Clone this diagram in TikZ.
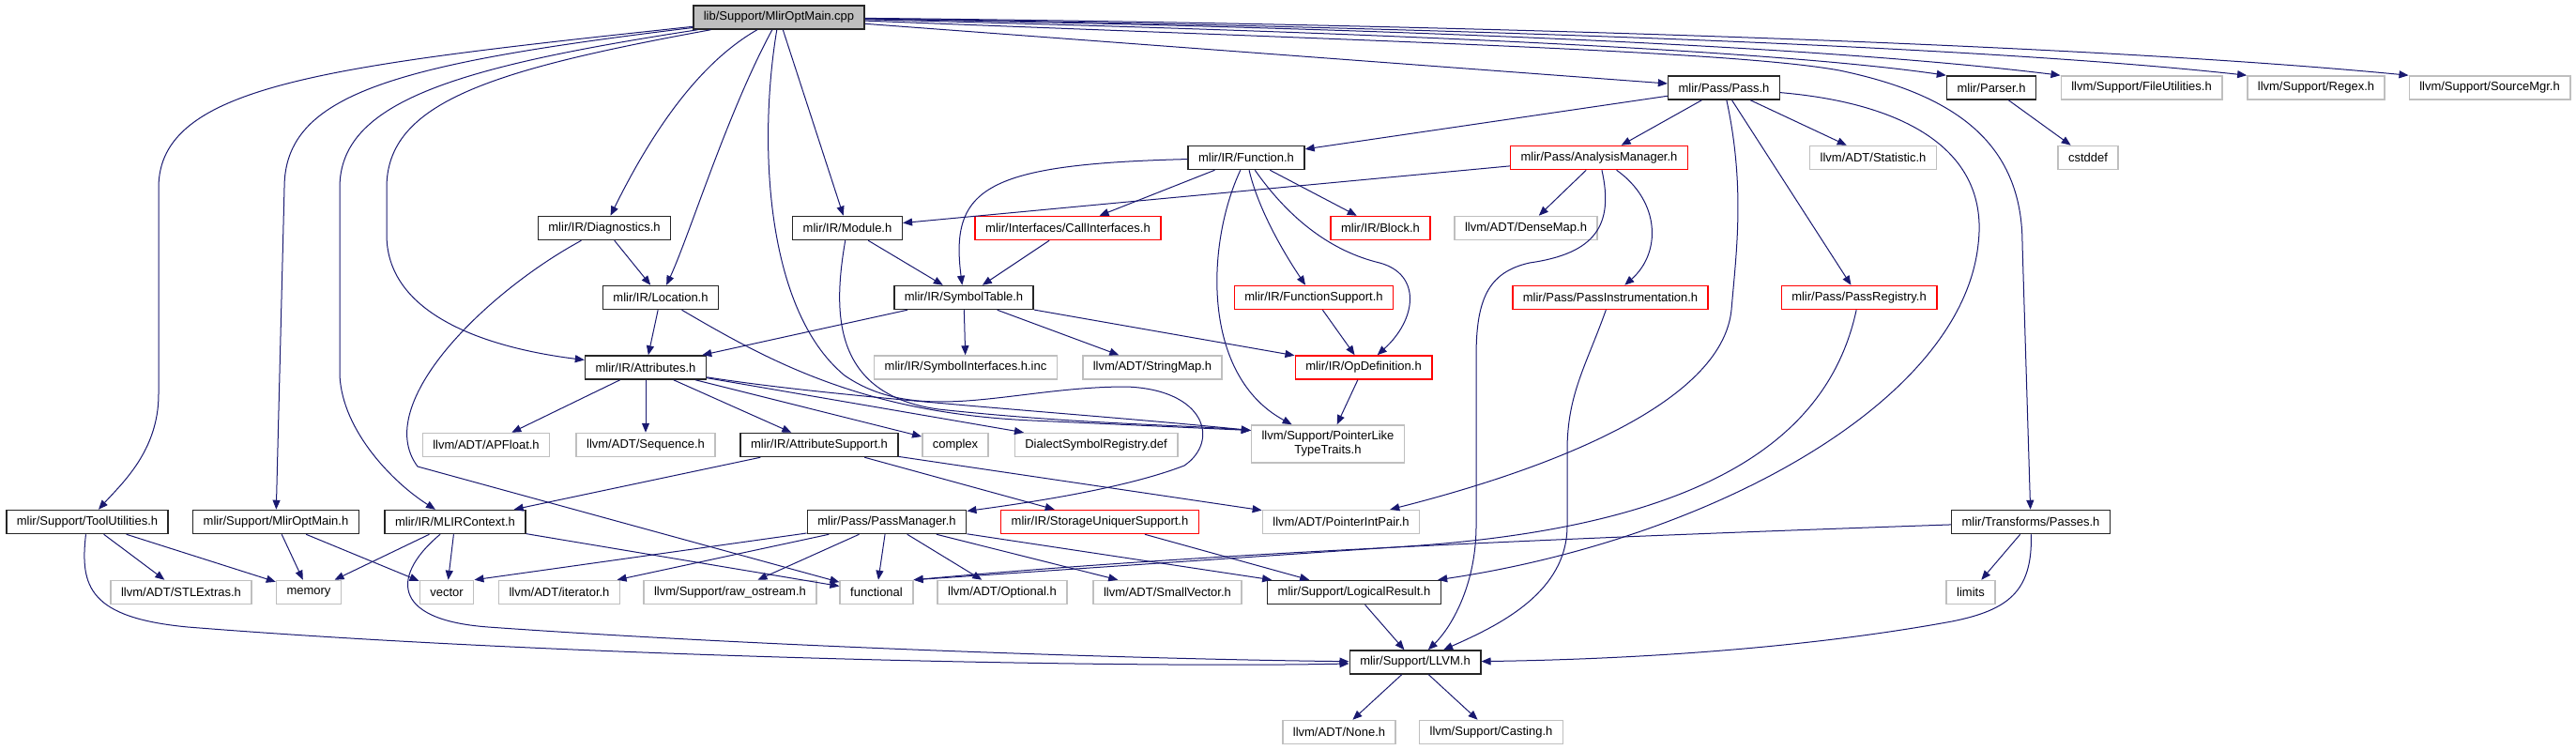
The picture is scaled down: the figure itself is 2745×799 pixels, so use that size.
\documentclass[tikz,border=0pt]{standalone}
\usepackage{fontspec}
\setmainfont{Liberation Sans}
\usepackage{tikz}
\usetikzlibrary{arrows.meta}
\definecolor{depblue}{HTML}{191970}
\definecolor{sysgray}{HTML}{BFBFBF}

\begin{document}
\begin{tikzpicture}[x=1pt,y=-1pt,
	font=\fontsize{13}{15}\selectfont,
	file/.style={draw=black!85,line width=1.5pt,fill=white,inner xsep=11pt,inner ysep=0pt,minimum height=25pt},
	rootfile/.style={file,fill=sysgray},
	redfile/.style={file,draw=red},
	sysfile/.style={file,draw=sysgray},
	dep/.style={draw=depblue,line width=1pt,-{Triangle[length=10pt,width=8pt]}}]
	
	\useasboundingbox (0,0) rectangle (2745,799);
	
	% Source file
	\node[rootfile] (root) at (830,18.5) {lib/Support/MlirOptMain.cpp};
	
	% Row 1
	\node[file] (pass) at (1837,93.5) {mlir/Pass/Pass.h};
	\node[file] (parser) at (2122,93.5) {mlir/Parser.h};
	\node[sysfile] (fileutil) at (2282,93.5) {llvm/Support/FileUtilities.h};
	\node[sysfile] (regex) at (2468,93.5) {llvm/Support/Regex.h};
	\node[sysfile] (srcmgr) at (2653,93.5) {llvm/Support/SourceMgr.h};
	
	% Row 2
	\node[file] (function) at (1328,168) {mlir/IR/Function.h};
	\node[redfile] (analysis) at (1704,168) {mlir/Pass/AnalysisManager.h};
	\node[sysfile] (statistic) at (1996,168) {llvm/ADT/Statistic.h};
	\node[sysfile] (cstddef) at (2225,168) {cstddef};
	
	% Row 3
	\node[file] (diag) at (644,243) {mlir/IR/Diagnostics.h};
	\node[file] (module) at (903,243) {mlir/IR/Module.h};
	\node[redfile] (callif) at (1138,243) {mlir/Interfaces/CallInterfaces.h};
	\node[redfile] (block) at (1471,243) {mlir/IR/Block.h};
	\node[sysfile] (densemap) at (1626,243) {llvm/ADT/DenseMap.h};
	
	% Row 4
	\node[file] (location) at (704,317) {mlir/IR/Location.h};
	\node[file] (symtab) at (1027,317) {mlir/IR/SymbolTable.h};
	\node[redfile] (funcsupport) at (1400,317) {mlir/IR/FunctionSupport.h};
	\node[redfile] (passinstr) at (1716,317) {mlir/Pass/PassInstrumentation.h};
	\node[redfile] (passreg) at (1981,317) {mlir/Pass/PassRegistry.h};
	
	% Row 5
	\node[file] (attrs) at (688,391.5) {mlir/IR/Attributes.h};
	\node[sysfile] (symif) at (1029,391.5) {mlir/IR/SymbolInterfaces.h.inc};
	\node[sysfile] (stringmap) at (1228,391.5) {llvm/ADT/StringMap.h};
	\node[redfile] (opdef) at (1453,391.5) {mlir/IR/OpDefinition.h};
	
	% Row 6
	\node[sysfile] (apfloat) at (518,474) {llvm/ADT/APFloat.h};
	\node[sysfile] (sequence) at (688,474) {llvm/ADT/Sequence.h};
	\node[file] (attrsupport) at (873,474) {mlir/IR/AttributeSupport.h};
	\node[sysfile] (complex) at (1018,474) {complex};
	\node[sysfile] (dialectreg) at (1168,474) {DialectSymbolRegistry.def};
	\node[sysfile,minimum height=40pt,align=center] (ptrlike) at (1415,473) {llvm/Support/PointerLike\\TypeTraits.h};
	
	% Row 7
	\node[file] (toolutil) at (93,556) {mlir/Support/ToolUtilities.h};
	\node[file] (optmainh) at (294,556) {mlir/Support/MlirOptMain.h};
	\node[file] (mlirctx) at (485,556) {mlir/IR/MLIRContext.h};
	\node[file] (passmgr) at (945,556) {mlir/Pass/PassManager.h};
	\node[redfile] (storage) at (1172,556) {mlir/IR/StorageUniquerSupport.h};
	\node[sysfile] (ptrintpair) at (1429,556) {llvm/ADT/PointerIntPair.h};
	\node[file] (transforms) at (2164,556) {mlir/Transforms/Passes.h};
	
	% Row 8
	\node[sysfile] (stlextras) at (193,631) {llvm/ADT/STLExtras.h};
	\node[sysfile] (memory) at (329,631) {memory};
	\node[sysfile] (vector) at (476,631) {vector};
	\node[sysfile] (iterator) at (596,631) {llvm/ADT/iterator.h};
	\node[sysfile] (rawostream) at (778,631) {llvm/Support/raw\_ostream.h};
	\node[sysfile] (functional) at (934,631) {functional};
	\node[sysfile] (optional) at (1068,631) {llvm/ADT/Optional.h};
	\node[sysfile] (smallvector) at (1244,631) {llvm/ADT/SmallVector.h};
	\node[file] (logical) at (1443,631) {mlir/Support/LogicalResult.h};
	\node[sysfile] (limits) at (2100,631) {limits};
	
	% Row 9 and 10
	\node[file] (llvm) at (1508,705.5) {mlir/Support/LLVM.h};
	\node[sysfile] (none) at (1427,780) {llvm/ADT/None.h};
	\node[sysfile] (casting) at (1589,780) {llvm/Support/Casting.h};
	
	% Includes of the source file
	\draw[dep] (root) .. controls (350,70) and (169,90) .. (169,200) -- (169,420) .. controls (169,480) and (130,515) .. (toolutil);
	\draw[dep] (root) .. controls (420,68) and (303,100) .. (303,200) -- (optmainh);
	\draw[dep] (root) .. controls (480,72) and (362,110) .. (362,200) -- (362,400) .. controls (365,460) and (420,515) .. (mlirctx);
	\draw[dep] (root) .. controls (520,75) and (412,110) .. (412,200) -- (412,250) .. controls (412,340) and (530,372) .. (attrs);
	\draw[dep] (root) .. controls (740,70) and (690,150) .. (diag);
	\draw[dep] (root) .. controls (775,120) and (735,250) .. (location);
	\draw[dep] (root) .. controls (808,150) and (815,330) .. (900,400) .. controls (980,455) and (1080,412) .. (1200,412) .. controls (1285,415) and (1300,470) .. (1262,496) .. controls (1200,520) and (1100,535) .. (passmgr);
	\draw[dep] (root) -- (module);
	\draw[dep] (root) -- (pass);
	\draw[dep] (root) .. controls (1500,35) and (1900,55) .. (parser.north west);
	\draw[dep] (root) .. controls (1500,30) and (1950,50) .. (fileutil.north west);
	\draw[dep] (root) .. controls (1500,28) and (2100,48) .. (regex.north west);
	\draw[dep] (root) .. controls (1500,25) and (2200,45) .. (srcmgr.north west);
	\draw[dep] (root) .. controls (1500,45) and (1850,55) .. (1960,75) .. controls (2080,100) and (2155,150) .. (2155,260) -- (transforms);
	
	% Pass.h
	\draw[dep] (pass) -- (function);
	\draw[dep] (pass) -- (analysis);
	\draw[dep] (pass) -- (statistic);
	\draw[dep] (pass) -- (passreg);
	\draw[dep] (pass) .. controls (1860,200) and (1850,270) .. (1845,330) .. controls (1835,430) and (1650,500) .. (ptrintpair);
	\draw[dep] (pass) .. controls (2030,110) and (2120,160) .. (2108,260) .. controls (2090,430) and (1820,575) .. (logical);
	\draw[dep] (parser) -- (cstddef);
	
	% AnalysisManager.h and friends
	\draw[dep] (analysis) -- (module);
	\draw[dep] (analysis) -- (densemap);
	\draw[dep] (analysis) .. controls (1770,215) and (1770,270) .. (passinstr);
	\draw[dep] (analysis) .. controls (1720,240) and (1700,270) .. (1630,280) .. controls (1585,290) and (1573,320) .. (1573,380) -- (1573,560) .. controls (1573,625) and (1545,670) .. (llvm);
	\draw[dep] (passinstr) .. controls (1690,390) and (1670,420) .. (1670,480) -- (1670,560) .. controls (1670,630) and (1600,665) .. (llvm);
	\draw[dep] (passreg) .. controls (1950,460) and (1830,560) .. (1500,582) -- (functional.north east);
	
	% Function.h
	\draw[dep] (function) .. controls (1050,175) and (1012,200) .. (symtab);
	\draw[dep] (function) -- (callif);
	\draw[dep] (function) -- (block);
	\draw[dep] (function) .. controls (1340,220) and (1365,265) .. (funcsupport);
	\draw[dep] (function) .. controls (1375,235) and (1420,268) .. (1470,280) .. controls (1515,292) and (1510,340) .. (opdef);
	\draw[dep] (function) .. controls (1285,260) and (1280,400) .. (ptrlike);
	\draw[dep] (callif) -- (symtab);
	\draw[dep] (funcsupport) -- (opdef);
	\draw[dep] (opdef) -- (ptrlike);
	
	% Module.h and SymbolTable.h
	\draw[dep] (module) -- (symtab);
	\draw[dep] (module) .. controls (888,330) and (885,420) .. (1000,436) .. controls (1150,452) and (1250,452) .. (ptrlike.170);
	\draw[dep] (symtab) -- (attrs);
	\draw[dep] (symtab) -- (symif);
	\draw[dep] (symtab) -- (stringmap);
	\draw[dep] (symtab) -- (opdef);
	
	% Diagnostics.h, Location.h, Attributes.h
	\draw[dep] (diag) -- (location);
	\draw[dep] (diag) .. controls (520,310) and (395,430) .. (445,497) -- (functional);
	\draw[dep] (location) -- (attrs);
	\draw[dep] (location) .. controls (820,385) and (920,440) .. (1100,448) -- (ptrlike.170);
	\draw[dep] (attrs) -- (apfloat);
	\draw[dep] (attrs) -- (sequence);
	\draw[dep] (attrs) -- (attrsupport);
	\draw[dep] (attrs) -- (complex);
	\draw[dep] (attrs) -- (dialectreg);
	\draw[dep] (attrs) .. controls (900,425) and (1150,440) .. (ptrlike.170);
	
	% AttributeSupport.h
	\draw[dep] (attrsupport) -- (mlirctx);
	\draw[dep] (attrsupport) -- (storage);
	\draw[dep] (attrsupport) -- (ptrintpair);
	\draw[dep] (storage) -- (logical);
	
	% Left hand headers
	\draw[dep] (toolutil) -- (stlextras);
	\draw[dep] (toolutil) -- (memory);
	\draw[dep] (toolutil) .. controls (85,625) and (95,658) .. (200,668) .. controls (600,700) and (1200,712) .. (llvm);
	\draw[dep] (optmainh) -- (memory);
	\draw[dep] (optmainh) -- (vector);
	\draw[dep] (mlirctx) -- (memory);
	\draw[dep] (mlirctx) -- (vector);
	\draw[dep] (mlirctx) -- (functional);
	\draw[dep] (mlirctx) .. controls (420,610) and (412,660) .. (520,668) .. controls (800,688) and (1200,702) .. (llvm);
	
	% PassManager.h
	\draw[dep] (passmgr) -- (vector.north east);
	\draw[dep] (passmgr) -- (iterator);
	\draw[dep] (passmgr) -- (rawostream);
	\draw[dep] (passmgr) -- (functional);
	\draw[dep] (passmgr) -- (optional);
	\draw[dep] (passmgr) -- (smallvector);
	\draw[dep] (passmgr) -- (logical);
	
	% Transforms/Passes.h
	\draw[dep] (transforms) .. controls (1700,572) and (1300,588) .. (functional.north east);
	\draw[dep] (transforms) -- (limits);
	\draw[dep] (transforms) .. controls (2166,630) and (2140,650) .. (2080,662) .. controls (1900,695) and (1700,703) .. (llvm);
	
	% LLVM.h
	\draw[dep] (logical) -- (llvm);
	\draw[dep] (llvm) -- (none);
	\draw[dep] (llvm) -- (casting);
	
\end{tikzpicture}
\end{document}
